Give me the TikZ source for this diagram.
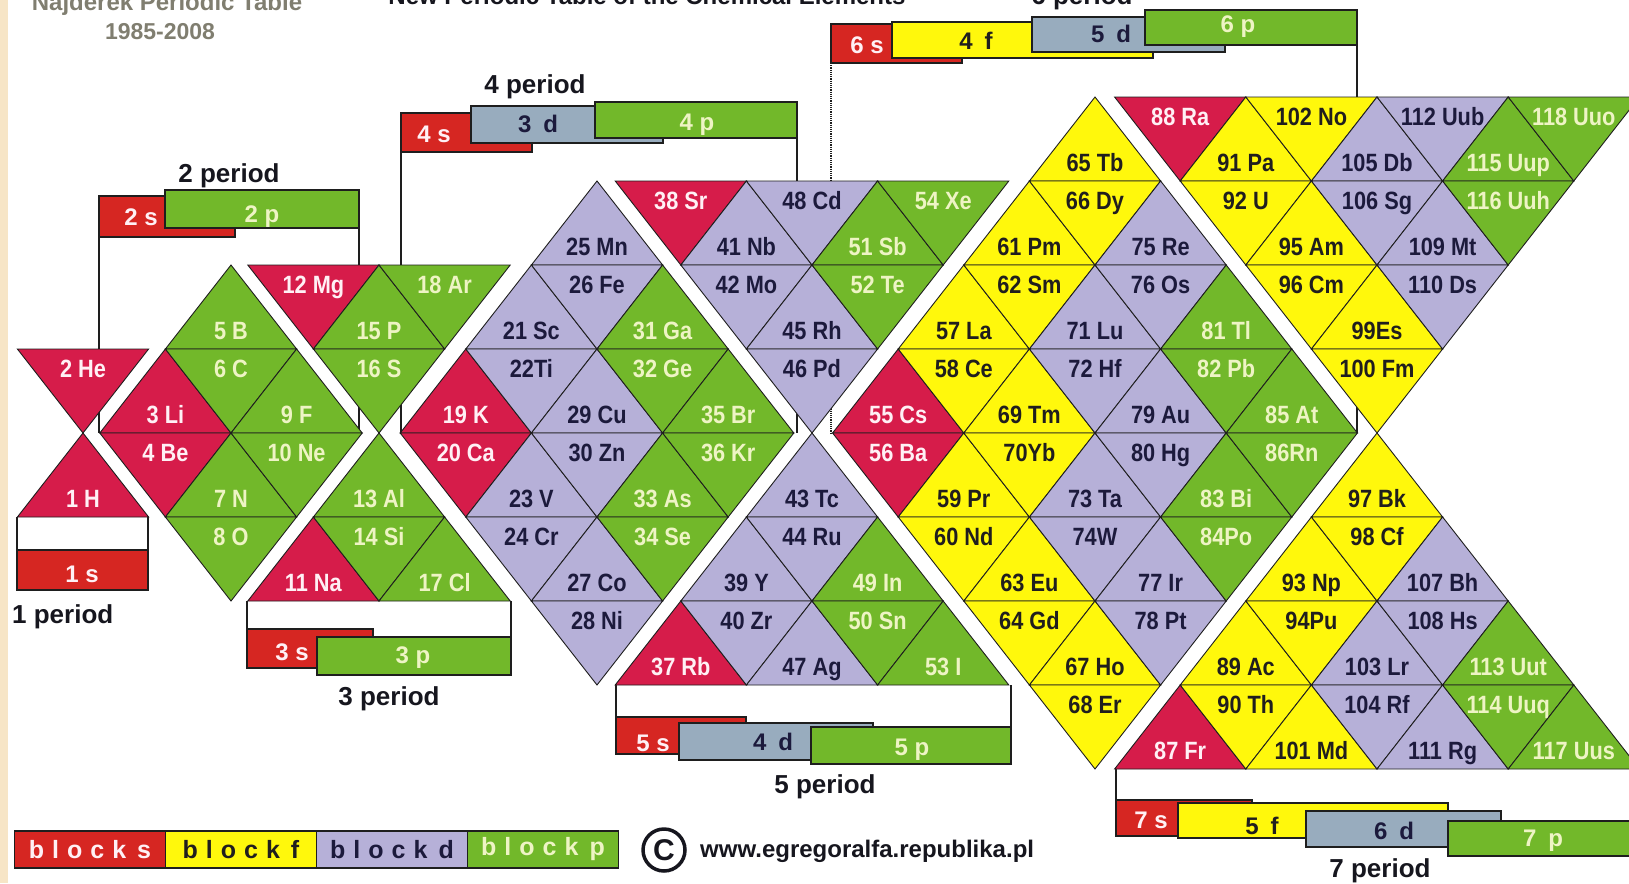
\documentclass[tikz,border=0pt]{standalone}
\usepackage{fontspec}
\usepackage{graphicx}
\setmainfont{Liberation Sans}
\definecolor{cs}{RGB}{214,28,74}
\definecolor{cf}{RGB}{255,248,12}
\definecolor{cd}{RGB}{182,176,216}
\definecolor{cp}{RGB}{114,184,42}
\definecolor{barS}{RGB}{214,38,34}
\definecolor{barD}{RGB}{152,172,190}
\definecolor{ts}{RGB}{255,240,245}
\definecolor{tp}{RGB}{238,244,196}
\definecolor{td}{RGB}{28,26,60}
\definecolor{tf}{RGB}{32,30,30}
\definecolor{edge}{RGB}{30,30,30}
\definecolor{hdr}{RGB}{128,126,112}
\definecolor{beige}{RGB}{247,229,198}
\definecolor{ink}{RGB}{22,22,30}
\newcommand\triW{65.6}
\newcommand\triH{84}
\newcommand\triU[6]{%
  \pgfmathsetmacro\tax{#1+(#2)*\triW}%
  \pgfmathsetmacro\tay{97+(#3)*\triH}%
  \filldraw[tri,fill=c#4] (\tax,\tay) -- ++(-\triW,\triH) -- ++(2*\triW,0) -- cycle;
  \node[lab,text=t#4] (#5) at (\tax,\tay+\triH-10) {\scalebox{0.87}[1]{#6}};}
\newcommand\triD[6]{%
  \pgfmathsetmacro\tax{#1+(#2)*\triW}%
  \pgfmathsetmacro\tay{97+(#3)*\triH}%
  \filldraw[tri,fill=c#4] (\tax-\triW,\tay) -- ++(2*\triW,0) -- ++(-\triW,\triH) -- cycle;
  \node[lab,text=t#4] (#5) at (\tax,\tay+28) {\scalebox{0.87}[1]{#6}};}
\newcommand\mkbar[6]{%
  \node[barbox,fill=#6,minimum width={(#4)-(#2)},minimum height={(#5)-(#3)}] (#1) at (#2,#3) {};}
\newcommand\lsp[6]{#1\kern8pt#2\kern8pt#3\kern8pt#4\kern8pt#5\kern11pt#6}
\begin{document}
\begin{tikzpicture}[x=1pt,y=-1pt,
  tri/.style={draw=edge,line width=0.9pt,line join=miter},
  lab/.style={anchor=base,inner sep=0pt,font=\fontsize{25}{25}\selectfont\bfseries},
  barbox/.style={draw=edge,line width=1.3pt,inner sep=0pt,outer sep=0pt,anchor=north west},
  blab/.style={anchor=base,inner sep=0pt,font=\fontsize{24}{24}\selectfont\bfseries},
  plab/.style={anchor=base,inner sep=0pt,text=ink,font=\fontsize{26}{26}\selectfont\bfseries},
  conn/.style={draw=edge,line width=1.2pt},
  leg/.style={draw=edge,line width=1.3pt,inner sep=0pt,outer sep=0pt,anchor=north west,minimum width=151pt,minimum height=37pt,font=\fontsize{25}{25}\selectfont\bfseries}]
\useasboundingbox (0,0) rectangle (1629,883);
\clip (0,0) rectangle (1629,883);
\fill[white] (0,0) rectangle (1629,883);
\fill[beige] (0,0) rectangle (8,883);
% headers
\node[anchor=base,inner sep=0pt,text=hdr,font=\fontsize{24}{24}\selectfont\bfseries] (hA) at (167,11) {Najderek Periodic Table};
\node[anchor=base,inner sep=0pt,text=hdr,font=\fontsize{23}{23}\selectfont\bfseries] (hB) at (160,40) {1985-2008};
\node[anchor=base,inner sep=0pt,text=ink,font=\fontsize{24}{24}\selectfont\bfseries] (hC) at (647,5) {New Periodic Table of the Chemical Elements};
% bars
\mkbar{s1}{17}{550}{148}{590}{barS}
\mkbar{s2}{99}{196}{235}{237}{barS}
\mkbar{p2}{165}{190}{359}{228}{cp}
\mkbar{s3}{247}{629}{373}{668}{barS}
\mkbar{p3}{317}{637}{511}{675}{cp}
\mkbar{s4}{401}{113}{532}{152}{barS}
\mkbar{d4}{471}{106}{663}{143}{barD}
\mkbar{p4}{595}{102}{797}{138}{cp}
\mkbar{s5}{616}{717}{746}{754}{barS}
\mkbar{d5}{679}{723}{873}{760}{barD}
\mkbar{p5}{811}{727}{1011}{764}{cp}
\mkbar{s6}{831}{24}{962}{63}{barS}
\mkbar{f6}{892}{22}{1153}{58}{cf}
\mkbar{d6}{1032}{17}{1225}{52}{barD}
\mkbar{p6}{1145}{10}{1357}{45}{cp}
\mkbar{s7}{1116}{800}{1252}{836}{barS}
\mkbar{f7}{1178}{803}{1448}{838}{cf}
\mkbar{d7}{1306}{811}{1501}{847}{barD}
\mkbar{p7}{1448}{821}{1640}{856}{cp}
% connector end points
\coordinate (k1a) at (17,517);
\coordinate (k1b) at (148,517);
\coordinate (k2a) at (99,433);
\coordinate (k2b) at (359,433);
\coordinate (k3a) at (247,601);
\coordinate (k3b) at (511,601);
\coordinate (k4a) at (401,433);
\coordinate (k4b) at (797,433);
\coordinate (k5a) at (616,685);
\coordinate (k5b) at (1011,685);
\coordinate (k6a) at (831,433);
\coordinate (k6b) at (1357,433);
\coordinate (k7a) at (1116,769);
\draw[conn] (s1.north west) -- (k1a);
\draw[conn] (s1.north east) -- (k1b);
\draw[conn] (s2.south west) -- (k2a);
\draw[conn] (p2.south east) -- (k2b);
\draw[conn] (s3.north west) -- (k3a);
\draw[conn] (p3.north east) -- (k3b);
\draw[conn] (s4.south west) -- (k4a);
\draw[conn] (p4.south east) -- (k4b);
\draw[conn] (s5.north west) -- (k5a);
\draw[conn] (p5.north east) -- (k5b);
\draw[conn,densely dotted] (s6.south west) -- (k6a);
\draw[conn] (p6.south east) -- (k6b);
\draw[conn] (s7.north west) -- (k7a);
% period 1
\triD{83}{0}{3}{s}{e2}{2 He}
\triU{83}{0}{4}{s}{e1}{1 H}
% period 2
\triU{231}{0}{2}{p}{e5}{5 B}
\triU{231}{-1}{3}{s}{e3}{3 Li}
\triD{231}{0}{3}{p}{e6}{6 C}
\triU{231}{1}{3}{p}{e9}{9 F}
\triD{231}{-1}{4}{s}{e4}{4 Be}
\triU{231}{0}{4}{p}{e7}{7 N}
\triD{231}{1}{4}{p}{e10}{10 Ne}
\triD{231}{0}{5}{p}{e8}{8 O}
% period 3
\triD{379}{-1}{2}{s}{e12}{12 Mg}
\triU{379}{0}{2}{p}{e15}{15 P}
\triD{379}{1}{2}{p}{e18}{18 Ar}
\triD{379}{0}{3}{p}{e16}{16 S}
\triU{379}{0}{4}{p}{e13}{13 Al}
\triU{379}{-1}{5}{s}{e11}{11 Na}
\triD{379}{0}{5}{p}{e14}{14 Si}
\triU{379}{1}{5}{p}{e17}{17 Cl}
% period 4
\triU{597}{0}{1}{d}{e25}{25 Mn}
\triU{597}{-1}{2}{d}{e21}{21 Sc}
\triD{597}{0}{2}{d}{e26}{26 Fe}
\triU{597}{1}{2}{p}{e31}{31 Ga}
\triU{597}{-2}{3}{s}{e19}{19 K}
\triD{597}{-1}{3}{d}{e22}{22Ti}
\triU{597}{0}{3}{d}{e29}{29 Cu}
\triD{597}{1}{3}{p}{e32}{32 Ge}
\triU{597}{2}{3}{p}{e35}{35 Br}
\triD{597}{-2}{4}{s}{e20}{20 Ca}
\triU{597}{-1}{4}{d}{e23}{23 V}
\triD{597}{0}{4}{d}{e30}{30 Zn}
\triU{597}{1}{4}{p}{e33}{33 As}
\triD{597}{2}{4}{p}{e36}{36 Kr}
\triD{597}{-1}{5}{d}{e24}{24 Cr}
\triU{597}{0}{5}{d}{e27}{27 Co}
\triD{597}{1}{5}{p}{e34}{34 Se}
\triD{597}{0}{6}{d}{e28}{28 Ni}
% period 5
\triD{812}{-2}{1}{s}{e38}{38 Sr}
\triU{812}{-1}{1}{d}{e41}{41 Nb}
\triD{812}{0}{1}{d}{e48}{48 Cd}
\triU{812}{1}{1}{p}{e51}{51 Sb}
\triD{812}{2}{1}{p}{e54}{54 Xe}
\triD{812}{-1}{2}{d}{e42}{42 Mo}
\triU{812}{0}{2}{d}{e45}{45 Rh}
\triD{812}{1}{2}{p}{e52}{52 Te}
\triD{812}{0}{3}{d}{e46}{46 Pd}
\triU{812}{0}{4}{d}{e43}{43 Tc}
\triU{812}{-1}{5}{d}{e39}{39 Y}
\triD{812}{0}{5}{d}{e44}{44 Ru}
\triU{812}{1}{5}{p}{e49}{49 In}
\triU{812}{-2}{6}{s}{e37}{37 Rb}
\triD{812}{-1}{6}{d}{e40}{40 Zr}
\triU{812}{0}{6}{d}{e47}{47 Ag}
\triD{812}{1}{6}{p}{e50}{50 Sn}
\triU{812}{2}{6}{p}{e53}{53 I}
% period 6
\triU{1095}{0}{0}{f}{e65}{65 Tb}
\triU{1095}{-1}{1}{f}{e61}{61 Pm}
\triD{1095}{0}{1}{f}{e66}{66 Dy}
\triU{1095}{1}{1}{d}{e75}{75 Re}
\triU{1095}{-2}{2}{f}{e57}{57 La}
\triD{1095}{-1}{2}{f}{e62}{62 Sm}
\triU{1095}{0}{2}{d}{e71}{71 Lu}
\triD{1095}{1}{2}{d}{e76}{76 Os}
\triU{1095}{2}{2}{p}{e81}{81 Tl}
\triU{1095}{-3}{3}{s}{e55}{55 Cs}
\triD{1095}{-2}{3}{f}{e58}{58 Ce}
\triU{1095}{-1}{3}{f}{e69}{69 Tm}
\triD{1095}{0}{3}{d}{e72}{72 Hf}
\triU{1095}{1}{3}{d}{e79}{79 Au}
\triD{1095}{2}{3}{p}{e82}{82 Pb}
\triU{1095}{3}{3}{p}{e85}{85 At}
\triD{1095}{-3}{4}{s}{e56}{56 Ba}
\triU{1095}{-2}{4}{f}{e59}{59 Pr}
\triD{1095}{-1}{4}{f}{e70}{70Yb}
\triU{1095}{0}{4}{d}{e73}{73 Ta}
\triD{1095}{1}{4}{d}{e80}{80 Hg}
\triU{1095}{2}{4}{p}{e83}{83 Bi}
\triD{1095}{3}{4}{p}{e86}{86Rn}
\triD{1095}{-2}{5}{f}{e60}{60 Nd}
\triU{1095}{-1}{5}{f}{e63}{63 Eu}
\triD{1095}{0}{5}{d}{e74}{74W}
\triU{1095}{1}{5}{d}{e77}{77 Ir}
\triD{1095}{2}{5}{p}{e84}{84Po}
\triD{1095}{-1}{6}{f}{e64}{64 Gd}
\triU{1095}{0}{6}{f}{e67}{67 Ho}
\triD{1095}{1}{6}{d}{e78}{78 Pt}
\triD{1095}{0}{7}{f}{e68}{68 Er}
% period 7
\triD{1377}{-3}{0}{s}{e88}{88 Ra}
\triU{1377}{-2}{0}{f}{e91}{91 Pa}
\triD{1377}{-1}{0}{f}{e102}{102 No}
\triU{1377}{0}{0}{d}{e105}{105 Db}
\triD{1377}{1}{0}{d}{e112}{112 Uub}
\triU{1377}{2}{0}{p}{e115}{115 Uup}
\triD{1377}{3}{0}{p}{e118}{118 Uuo}
\triD{1377}{-2}{1}{f}{e92}{92 U}
\triU{1377}{-1}{1}{f}{e95}{95 Am}
\triD{1377}{0}{1}{d}{e106}{106 Sg}
\triU{1377}{1}{1}{d}{e109}{109 Mt}
\triD{1377}{2}{1}{p}{e116}{116 Uuh}
\triD{1377}{-1}{2}{f}{e96}{96 Cm}
\triU{1377}{0}{2}{f}{e99}{99Es}
\triD{1377}{1}{2}{d}{e110}{110 Ds}
\triD{1377}{0}{3}{f}{e100}{100 Fm}
\triU{1377}{0}{4}{f}{e97}{97 Bk}
\triU{1377}{-1}{5}{f}{e93}{93 Np}
\triD{1377}{0}{5}{f}{e98}{98 Cf}
\triU{1377}{1}{5}{d}{e107}{107 Bh}
\triU{1377}{-2}{6}{f}{e89}{89 Ac}
\triD{1377}{-1}{6}{f}{e94}{94Pu}
\triU{1377}{0}{6}{d}{e103}{103 Lr}
\triD{1377}{1}{6}{d}{e108}{108 Hs}
\triU{1377}{2}{6}{p}{e113}{113 Uut}
\triU{1377}{-3}{7}{s}{e87}{87 Fr}
\triD{1377}{-2}{7}{f}{e90}{90 Th}
\triU{1377}{-1}{7}{f}{e101}{101 Md}
\triD{1377}{0}{7}{d}{e104}{104 Rf}
\triU{1377}{1}{7}{d}{e111}{111 Rg}
\triD{1377}{2}{7}{p}{e114}{114 Uuq}
\triU{1377}{3}{7}{p}{e117}{117 Uus}
% bar labels
\node[blab,text=ts] (b1s) at (82,582) {1 s};
\node[blab,text=ts] (b2s) at (141,225) {2 s};
\node[blab,text=tp] (b2p) at (262,222) {2 p};
\node[blab,text=ts] (b3s) at (292,660) {3 s};
\node[blab,text=tp] (b3p) at (413,663) {3 p};
\node[blab,text=ts] (b4s) at (434,142) {4 s};
\node[blab,text=td] (b3d) at (538,132) {3\enspace d};
\node[blab,text=tp] (b4p) at (697,130) {4 p};
\node[blab,text=ts] (b5s) at (653,751) {5 s};
\node[blab,text=td] (b4d) at (773,750) {4\enspace d};
\node[blab,text=tp] (b5p) at (912,755) {5 p};
\node[blab,text=ts] (b6s) at (867,53) {6 s};
\node[blab,text=tf] (b4f) at (976,50) {4\enspace f};
\node[blab,text=td] (b5d) at (1111,42) {5\enspace d};
\node[blab,text=tp] (b6p) at (1238,33) {6 p};
\node[blab,text=ts] (b7s) at (1151,828) {7 s};
\node[blab,text=tf] (b5f) at (1262,834) {5\enspace f};
\node[blab,text=td] (b6d) at (1394,839) {6\enspace d};
\node[blab,text=tp] (b7p) at (1543,846) {7\enspace p};
% period labels
\node[plab,anchor=base west] (P1) at (12,623) {1 period};
\node[plab] (P2) at (229,182) {2 period};
\node[plab] (P3) at (389,705) {3 period};
\node[plab] (P4) at (535,93) {4 period};
\node[plab] (P5) at (825,793) {5 period};
\node[plab] (P6) at (1082,5) {6 period};
\node[plab] (P7) at (1380,877) {7 period};
% legend
\node[leg,fill=barS,text=ts] (Ls) at (14.5,831) {\lsp blocks};
\node[leg,fill=cf,text=tf] (Lf) at (165.5,831) {\lsp blockf};
\node[leg,fill=cd,text=td] (Ld) at (316.5,831) {\lsp blockd};
\node[leg,fill=cp,text=tp] (Lp) at (467.5,831) {\lsp blockp};
% copyright
\node[circle,draw=ink,line width=3.5pt,minimum size=42pt,inner sep=0pt,font=\fontsize{30}{30}\selectfont\bfseries,text=ink] (cop) at (664,850) {C};
\node[anchor=base west,inner sep=0pt,text=ink,font=\fontsize{24}{24}\selectfont\bfseries] (url) at (700,857) {www.egregoralfa.republika.pl};
\end{tikzpicture}
\end{document}
